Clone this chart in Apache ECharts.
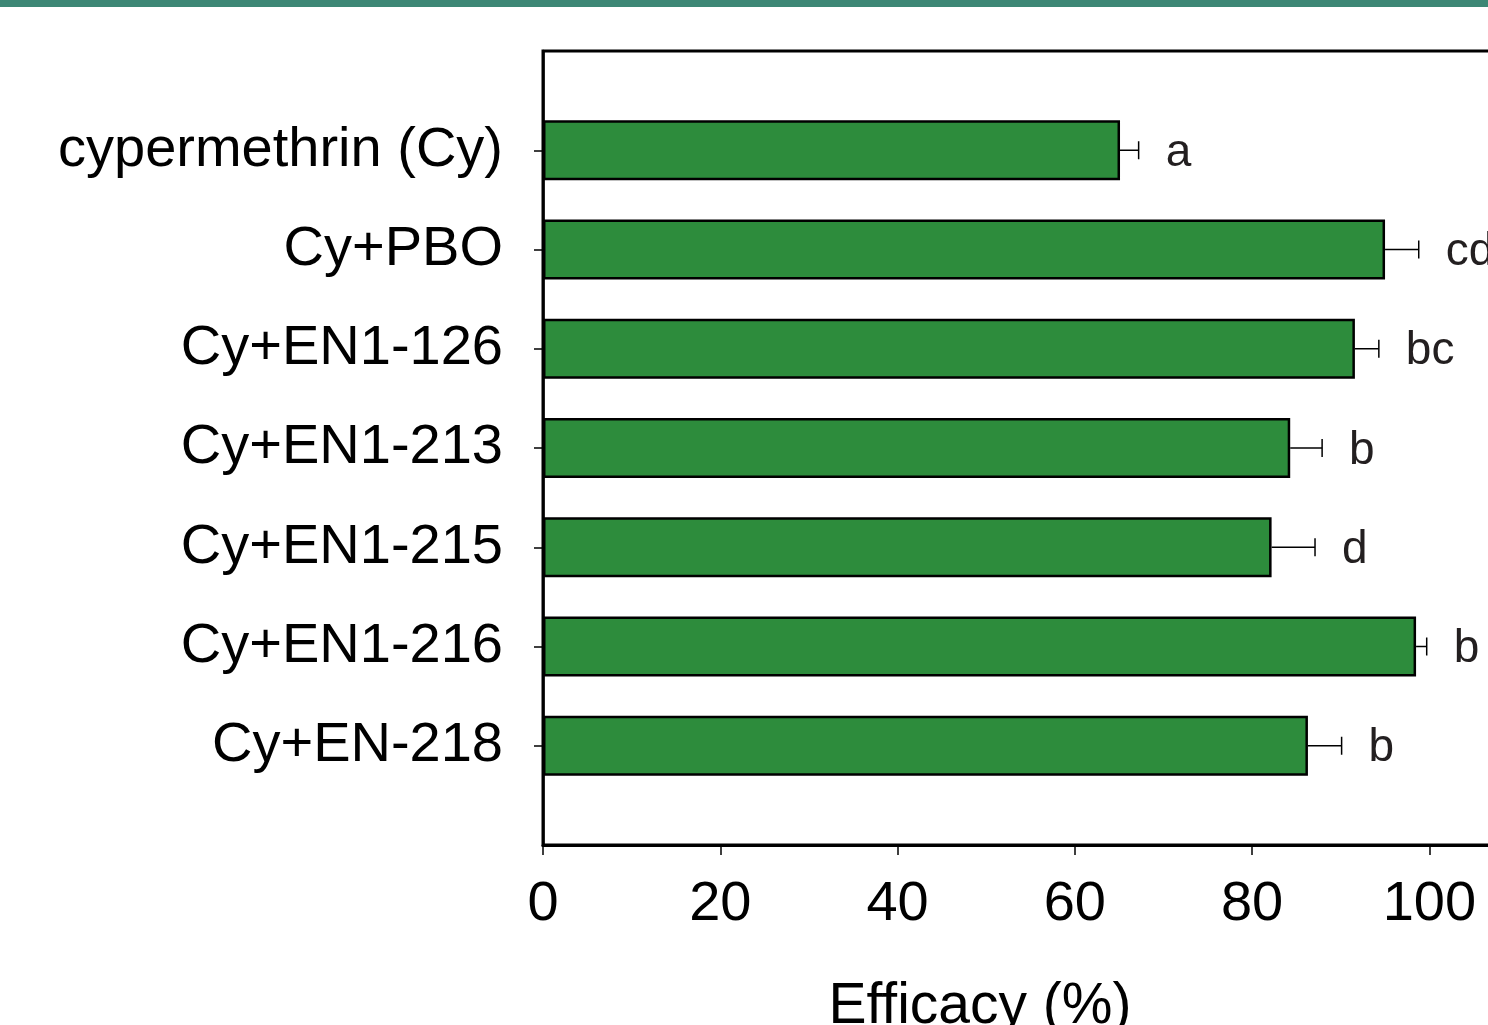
<!DOCTYPE html>
<html>
<head>
<meta charset="utf-8">
<script src="https://cdn.jsdelivr.net/npm/echarts@6/dist/echarts.min.js"></script>
<style>
html,body{margin:0;padding:0;background:#fff;}
#chart{width:1488px;height:1025px;}
</style>
</head>
<body>
<div id="chart"></div>
<script>
const categories = ['', 'cypermethrin (Cy)', 'Cy+PBO', 'Cy+EN1-126', 'Cy+EN1-213', 'Cy+EN1-215', 'Cy+EN1-216', 'Cy+EN-218', ''];
const efficacy = [null, 65.1, 95.0, 91.6, 84.3, 82.2, 98.5, 86.3, null];
const errors = [null, 2.1, 3.8, 2.7, 3.6, 4.9, 1.2, 3.8, null];
const letters = ['', 'a', 'cd', 'bc', 'b', 'd', 'b', 'b', ''];
const xTicks = [0, 20, 40, 60, 80, 100];

const FONT = '"Liberation Sans", Arial, sans-serif';

const errData = [];
for (let i = 0; i < categories.length; i++) {
  if (efficacy[i] != null) errData.push([efficacy[i], i, errors[i], letters[i]]);
}

const chart = echarts.init(document.getElementById('chart'), null, {renderer: 'canvas'});
chart.setOption({
  animation: false,
  backgroundColor: '#fff',
  grid: {left: 543, top: 51, height: 794, width: 975, show: true, borderColor: '#000', borderWidth: 3,
    containLabel: false, outerBoundsMode: 'none'},
  xAxis: {
    type: 'value', min: 0, max: 110, interval: 20,
    axisLine: {show: true, lineStyle: {color: '#000', width: 3}},
    axisTick: {show: true, inside: false, length: 10, lineStyle: {color: '#000', width: 1.5}},
    axisLabel: {show: true, showMaxLabel: false, color: '#000', fontSize: 56, fontFamily: FONT, margin: 32,
      formatter: v => xTicks.includes(v) ? String(v) : ''},
    splitLine: {show: false}
  },
  yAxis: {
    type: 'category', data: categories, inverse: true, boundaryGap: false,
    axisLine: {show: true, lineStyle: {color: '#000', width: 2.5}},
    axisTick: {show: true, inside: false, length: 9, lineStyle: {color: '#000', width: 1.5},
      interval: (idx) => idx > 0 && idx < categories.length - 1},
    axisLabel: {show: true, color: '#000', fontSize: 56, fontFamily: FONT, margin: 40,
      interval: (idx) => idx > 0 && idx < categories.length - 1},
    splitLine: {show: false}
  },
  series: [
    {
      type: 'bar', data: efficacy, barWidth: 60,
      itemStyle: {color: '#2d8c3c', borderColor: '#000', borderWidth: 2.5}
    },
    {
      type: 'custom',
      data: errData,
      encode: {x: 0, y: 1},
      renderItem: function (params, api) {
        const v = api.value(0), idx = api.value(1), e = api.value(2);
        const letter = errData[params.dataIndex][3];
        const p0 = api.coord([v, idx]);
        const p1 = api.coord([v + e, idx]);
        const cap = 9;
        return {
          type: 'group',
          children: [
            {type: 'line', shape: {x1: p0[0], y1: p0[1], x2: p1[0], y2: p1[1]}, style: {stroke: '#000', lineWidth: 1.5}},
            {type: 'line', shape: {x1: p1[0], y1: p1[1] - cap, x2: p1[0], y2: p1[1] + cap}, style: {stroke: '#000', lineWidth: 1.5}},
            {type: 'text', x: p1[0] + 27, y: p1[1] + 3, style: {text: letter, fill: '#231f20', fontSize: 46, fontFamily: FONT, textAlign: 'left', textVerticalAlign: 'middle'}}
          ]
        };
      },
      z: 5
    }
  ],
  graphic: [
    {type: 'rect', left: 0, top: 0, shape: {width: 1488, height: 7}, style: {fill: '#3d8775'}},
    {type: 'text', x: 980, y: 1007, style: {text: 'Efficacy (%)', fill: '#000', fontSize: 57, fontFamily: FONT, textAlign: 'center', textVerticalAlign: 'middle'}}
  ]
});
</script>
</body>
</html>
